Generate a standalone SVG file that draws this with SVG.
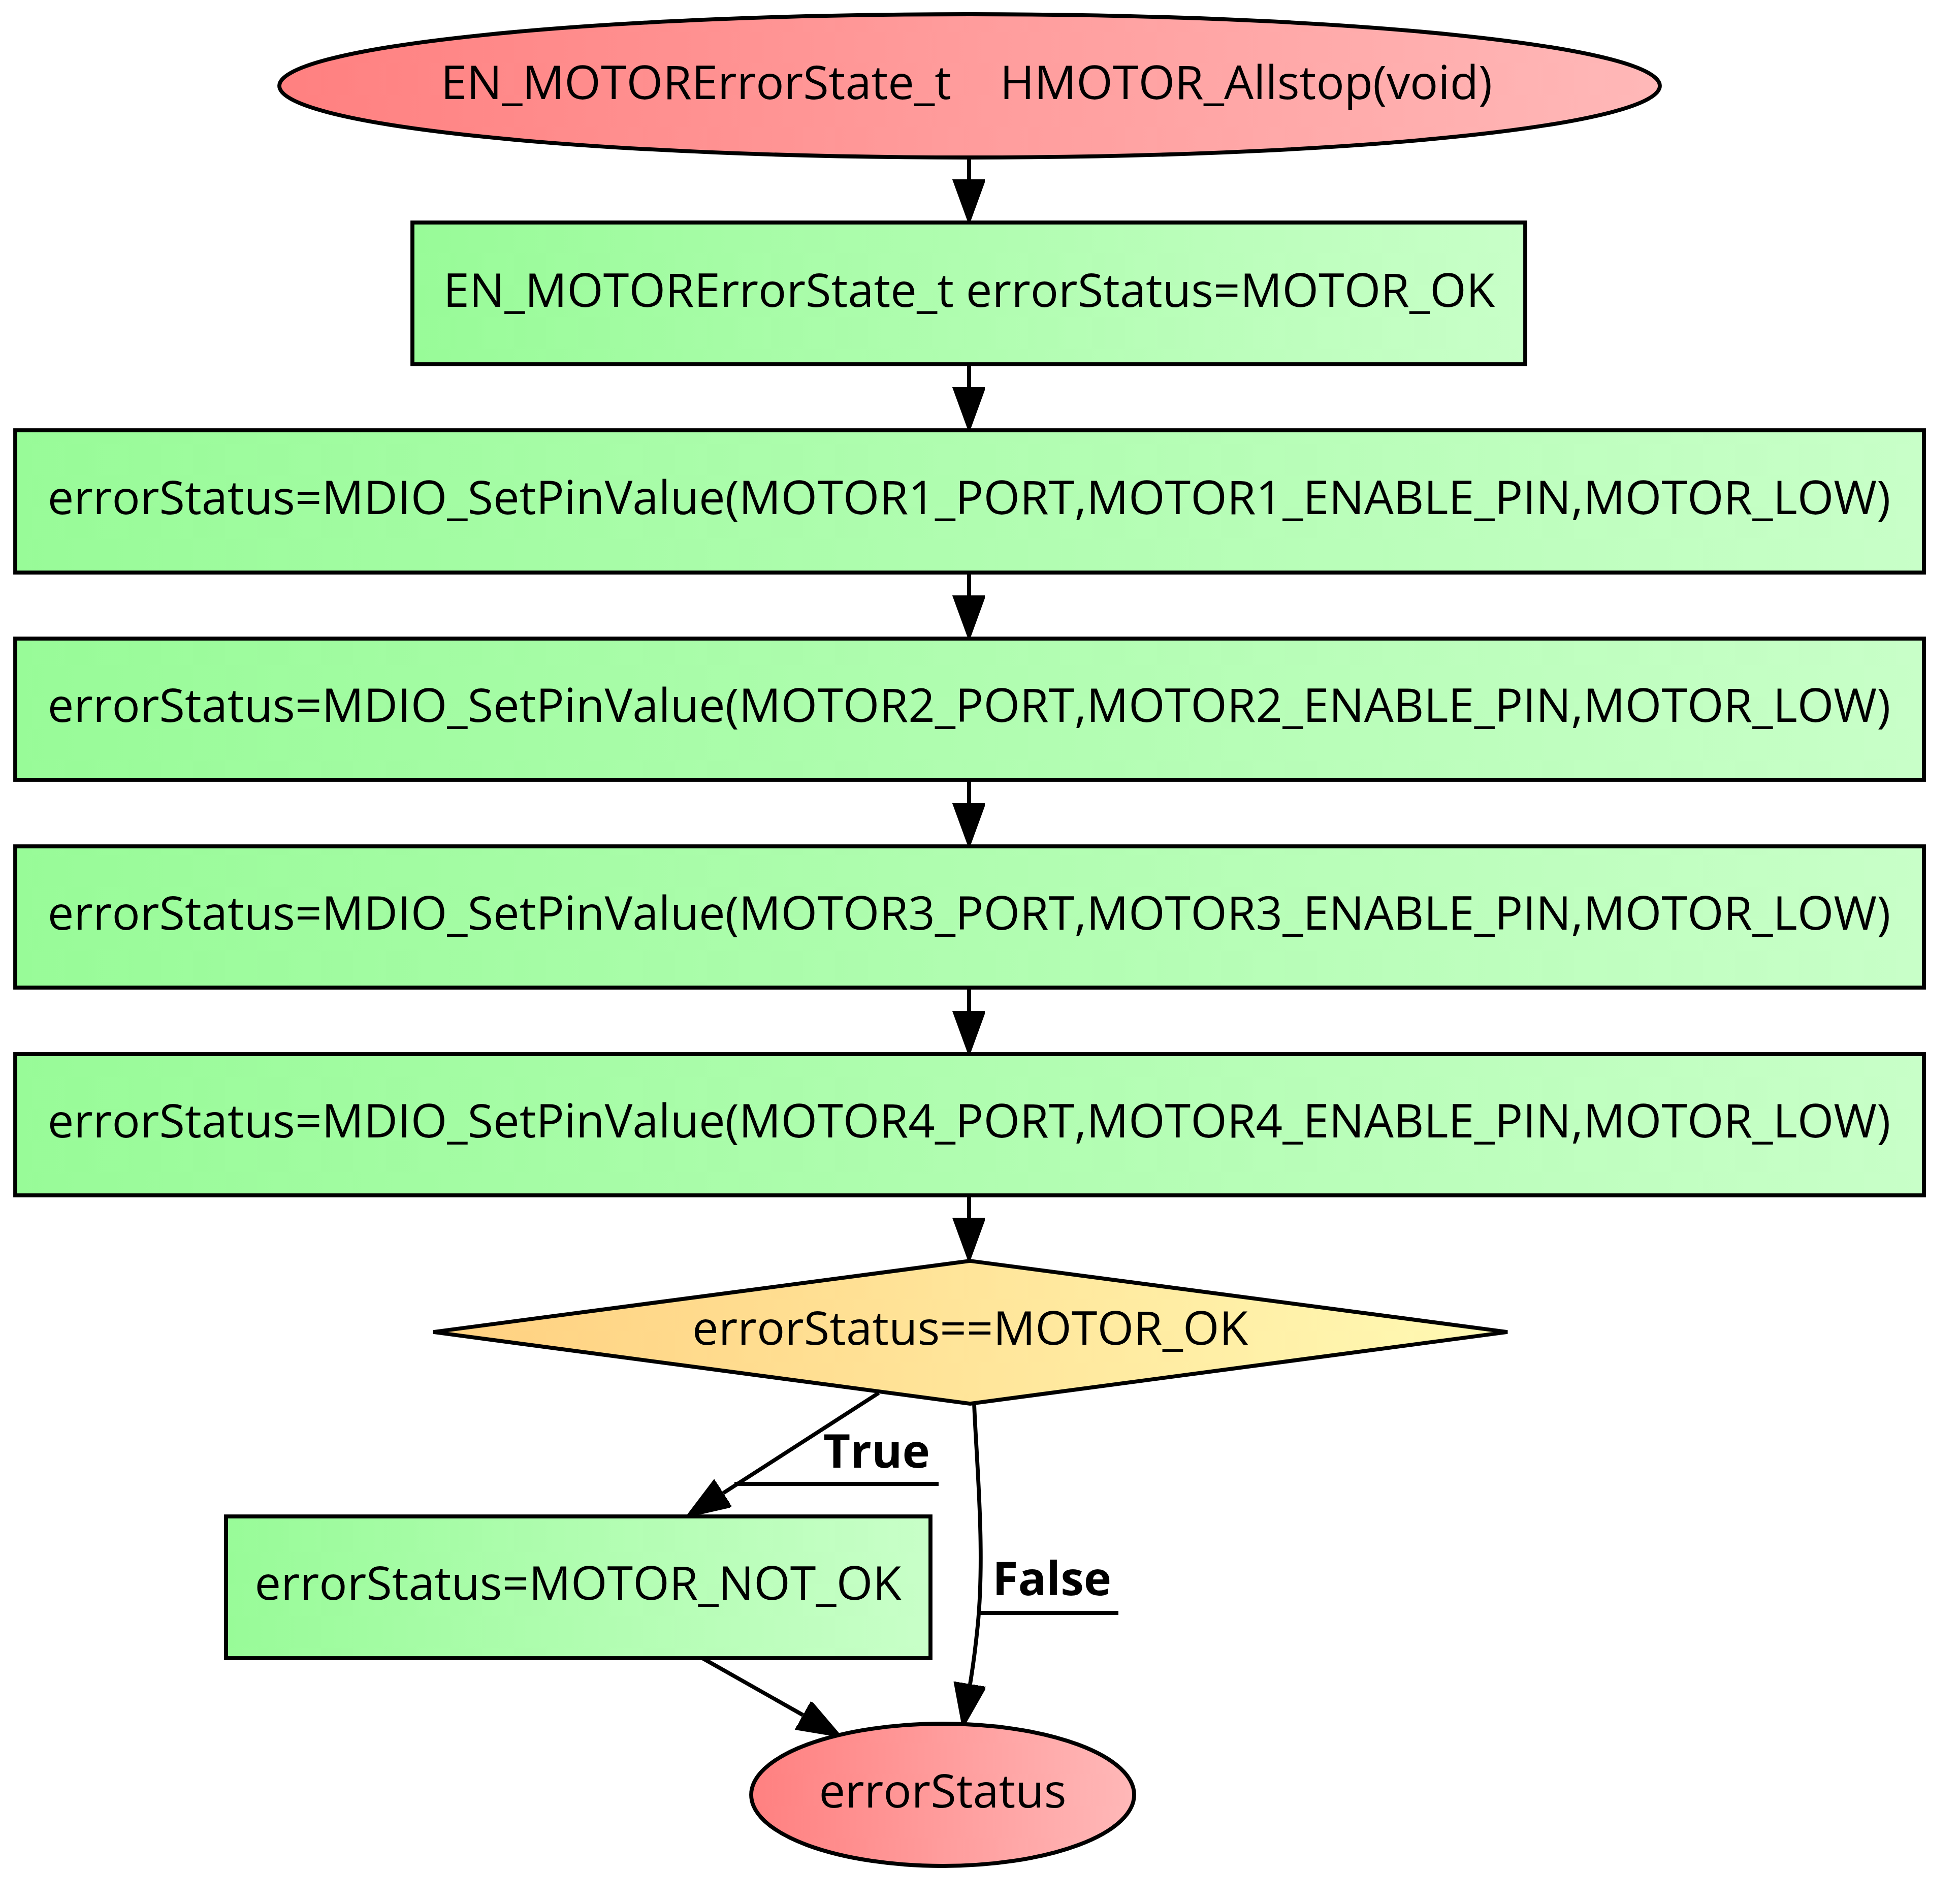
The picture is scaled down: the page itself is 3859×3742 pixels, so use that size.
<svg xmlns="http://www.w3.org/2000/svg" width="3859" height="3742" viewBox="0 0 3859 3742">
<defs>
<linearGradient id="gRed" x1="0" y1="0" x2="1" y2="0"><stop offset="0" stop-color="#ff8080"/><stop offset="1" stop-color="#ffb8b8"/></linearGradient>
<linearGradient id="gGreen" x1="0" y1="0" x2="1" y2="0"><stop offset="0" stop-color="#98fb98"/><stop offset="1" stop-color="#c8ffc8"/></linearGradient>
<linearGradient id="gYellow" x1="0" y1="0" x2="1" y2="0"><stop offset="0" stop-color="#ffd080"/><stop offset="1" stop-color="#fffab4"/></linearGradient>
<marker id="arr" markerUnits="userSpaceOnUse" markerWidth="90" markerHeight="70" refX="0" refY="31" orient="auto"><path d="M0,0 L85,31 L0,62 z" fill="#000" stroke="#000" stroke-width="4"/></marker>
</defs>
<style>
.n{stroke:#000;stroke-width:7.8}
.t{font-family:"Open Sans","Noto Sans",sans-serif;font-size:92px;fill:#000;text-anchor:middle;white-space:pre}
.b{font-family:"Open Sans","Noto Sans",sans-serif;font-size:92px;font-weight:bold;fill:#000}
.e{fill:none;stroke:#000;stroke-width:7.8;marker-end:url(#arr)}
.u{stroke:#000;stroke-width:7.8}
</style>
<rect width="3859" height="3742" fill="#fff"/>
<g id="connectors">
<path class="e" d="M1908,310 L1908,353"/>
<path class="e" d="M1908,717 L1908,762"/>
<path class="e" d="M1908,1127 L1908,1172"/>
<path class="e" d="M1908,1535 L1908,1581"/>
<path class="e" d="M1908,1944 L1908,1990"/>
<path class="e" d="M1908,2353 L1908,2397"/>
<path class="e" d="M1730,2742 L1424,2939"/>
<path class="e" d="M1918,2763 C1922,2870 1940,3050 1925,3200 C1920,3250 1915,3285 1910,3315"/>
<path class="e" d="M1383,3264 L1581,3376"/>
<text class="b" x="1621" y="2889">True</text>
<line class="u" x1="1446" y1="2921" x2="1848" y2="2921"/>
<text class="b" x="1954" y="3140">False</text>
<line class="u" x1="1928" y1="3175" x2="2202" y2="3175"/>
</g>
<g id="start">
<ellipse class="n" cx="1909" cy="169" rx="1359" ry="141" fill="url(#gRed)"/>
<text class="t" x="1903" y="195">EN_MOTORErrorState_t    HMOTOR_Allstop(void)</text>
</g>
<g id="init">
<rect class="n" x="812" y="438" width="2191" height="279" fill="url(#gGreen)"/>
<text class="t" x="1908" y="604">EN_MOTORErrorState_t errorStatus=MOTOR_OK</text>
</g>
<g id="motor1">
<rect class="n" x="30" y="847" width="3758" height="280" fill="url(#gGreen)"/>
<text class="t" x="1908" y="1012">errorStatus=MDIO_SetPinValue(MOTOR1_PORT,MOTOR1_ENABLE_PIN,MOTOR_LOW)</text>
</g>
<g id="motor2">
<rect class="n" x="30" y="1257" width="3758" height="278" fill="url(#gGreen)"/>
<text class="t" x="1908" y="1421">errorStatus=MDIO_SetPinValue(MOTOR2_PORT,MOTOR2_ENABLE_PIN,MOTOR_LOW)</text>
</g>
<g id="motor3">
<rect class="n" x="30" y="1666" width="3758" height="278" fill="url(#gGreen)"/>
<text class="t" x="1908" y="1830">errorStatus=MDIO_SetPinValue(MOTOR3_PORT,MOTOR3_ENABLE_PIN,MOTOR_LOW)</text>
</g>
<g id="motor4">
<rect class="n" x="30" y="2075" width="3758" height="278" fill="url(#gGreen)"/>
<text class="t" x="1908" y="2239">errorStatus=MDIO_SetPinValue(MOTOR4_PORT,MOTOR4_ENABLE_PIN,MOTOR_LOW)</text>
</g>
<g id="decision">
<polygon class="n" points="1910,2482 2968,2622 1910,2763 853,2622" fill="url(#gYellow)"/>
<text class="t" x="1910" y="2647">errorStatus==MOTOR_OK</text>
</g>
<g id="notok">
<rect class="n" x="445" y="2985" width="1387" height="279" fill="url(#gGreen)"/>
<text class="t" x="1138" y="3149">errorStatus=MOTOR_NOT_OK</text>
</g>
<g id="end">
<ellipse class="n" cx="1856" cy="3533" rx="377" ry="140" fill="url(#gRed)"/>
<text class="t" x="1856" y="3558">errorStatus</text>
</g>
</svg>
